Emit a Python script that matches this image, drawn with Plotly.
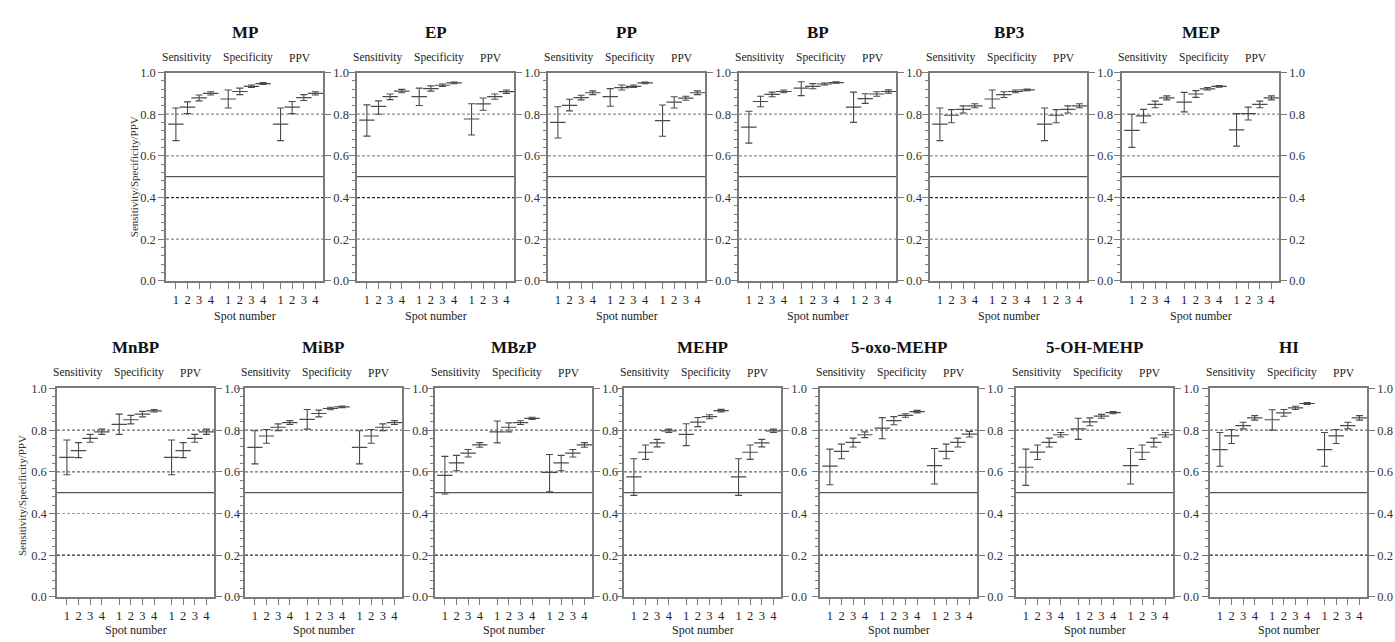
import plotly.graph_objects as go

W, H = 1395, 642

PANELS = ["MP", "EP", "PP", "BP", "BP3", "MEP",
          "MnBP", "MiBP", "MBzP", "MEHP", "5-oxo-MEHP", "5-OH-MEHP", "HI"]
GROUPS = ["Sensitivity", "Specificity", "PPV"]
SPOTS = ["1", "2", "3", "4"]
Y_TICKS = [0.0, 0.2, 0.4, 0.6, 0.8, 1.0]

# estimate / lower / upper for spots 1-4 of Sensitivity, Specificity, PPV
MP_est = [0.752, 0.834, 0.878, 0.900, 0.873, 0.909, 0.934, 0.947, 0.752, 0.834, 0.880, 0.900]
MP_low = [0.673, 0.803, 0.864, 0.892, 0.830, 0.894, 0.928, 0.943, 0.673, 0.803, 0.866, 0.892]
MP_high = [0.830, 0.859, 0.892, 0.908, 0.916, 0.925, 0.940, 0.952, 0.830, 0.861, 0.894, 0.908]

EP_est = [0.772, 0.838, 0.884, 0.911, 0.884, 0.923, 0.939, 0.950, 0.777, 0.850, 0.884, 0.908]
EP_low = [0.695, 0.800, 0.870, 0.903, 0.842, 0.911, 0.933, 0.946, 0.700, 0.819, 0.872, 0.900]
EP_high = [0.845, 0.864, 0.897, 0.919, 0.925, 0.936, 0.945, 0.954, 0.850, 0.878, 0.897, 0.916]

PP_est = [0.761, 0.842, 0.880, 0.903, 0.884, 0.928, 0.934, 0.950, 0.769, 0.858, 0.877, 0.903]
PP_low = [0.686, 0.816, 0.869, 0.894, 0.838, 0.916, 0.928, 0.946, 0.694, 0.830, 0.867, 0.894]
PP_high = [0.836, 0.872, 0.891, 0.912, 0.923, 0.940, 0.940, 0.954, 0.844, 0.884, 0.886, 0.912]

BP_est = [0.738, 0.861, 0.895, 0.909, 0.925, 0.934, 0.945, 0.952, 0.834, 0.875, 0.897, 0.909]
BP_low = [0.661, 0.836, 0.884, 0.903, 0.889, 0.922, 0.940, 0.949, 0.761, 0.852, 0.886, 0.901]
BP_high = [0.814, 0.886, 0.906, 0.916, 0.956, 0.947, 0.950, 0.955, 0.906, 0.898, 0.908, 0.917]

BP3_est = [0.752, 0.795, 0.823, 0.840, 0.873, 0.894, 0.909, 0.917, 0.752, 0.795, 0.823, 0.840]
BP3_low = [0.673, 0.759, 0.806, 0.831, 0.830, 0.880, 0.903, 0.913, 0.673, 0.759, 0.806, 0.831]
BP3_high = [0.830, 0.822, 0.840, 0.850, 0.916, 0.908, 0.916, 0.921, 0.830, 0.822, 0.840, 0.850]

MEP_est = [0.722, 0.792, 0.847, 0.878, 0.858, 0.897, 0.922, 0.934, 0.725, 0.803, 0.847, 0.878]
MEP_low = [0.641, 0.759, 0.831, 0.869, 0.811, 0.881, 0.916, 0.930, 0.647, 0.772, 0.831, 0.869]
MEP_high = [0.800, 0.823, 0.863, 0.888, 0.905, 0.913, 0.928, 0.938, 0.803, 0.834, 0.863, 0.888]

MnBP_est = [0.669, 0.702, 0.761, 0.792, 0.828, 0.850, 0.877, 0.893, 0.669, 0.702, 0.761, 0.792]
MnBP_low = [0.586, 0.668, 0.742, 0.780, 0.780, 0.830, 0.864, 0.887, 0.586, 0.668, 0.742, 0.780]
MnBP_high = [0.753, 0.740, 0.780, 0.805, 0.877, 0.871, 0.890, 0.899, 0.753, 0.740, 0.780, 0.805]

MiBP_est = [0.717, 0.772, 0.814, 0.836, 0.852, 0.880, 0.904, 0.912, 0.717, 0.772, 0.814, 0.836]
MiBP_low = [0.638, 0.737, 0.798, 0.827, 0.805, 0.864, 0.898, 0.908, 0.638, 0.737, 0.798, 0.827]
MiBP_high = [0.797, 0.803, 0.830, 0.846, 0.899, 0.896, 0.910, 0.916, 0.797, 0.803, 0.830, 0.846]

MBzP_est = [0.583, 0.643, 0.690, 0.729, 0.792, 0.814, 0.836, 0.857, 0.597, 0.643, 0.690, 0.729]
MBzP_low = [0.494, 0.605, 0.671, 0.718, 0.739, 0.792, 0.827, 0.852, 0.504, 0.605, 0.671, 0.718]
MBzP_high = [0.674, 0.679, 0.707, 0.740, 0.844, 0.835, 0.845, 0.862, 0.683, 0.679, 0.707, 0.740]

MEHP_est = [0.576, 0.694, 0.739, 0.797, 0.780, 0.839, 0.865, 0.894, 0.576, 0.694, 0.739, 0.797]
MEHP_low = [0.487, 0.660, 0.720, 0.789, 0.726, 0.817, 0.855, 0.888, 0.487, 0.660, 0.720, 0.789]
MEHP_high = [0.663, 0.729, 0.756, 0.805, 0.831, 0.861, 0.874, 0.900, 0.663, 0.729, 0.756, 0.805]

OXO_est = [0.627, 0.698, 0.741, 0.778, 0.810, 0.846, 0.871, 0.889, 0.630, 0.698, 0.741, 0.781]
OXO_low = [0.538, 0.663, 0.719, 0.764, 0.759, 0.826, 0.862, 0.883, 0.542, 0.663, 0.719, 0.767]
OXO_high = [0.709, 0.733, 0.762, 0.792, 0.860, 0.865, 0.879, 0.895, 0.712, 0.733, 0.762, 0.794]

OH_est = [0.622, 0.695, 0.741, 0.778, 0.806, 0.840, 0.867, 0.884, 0.630, 0.694, 0.741, 0.778]
OH_low = [0.535, 0.659, 0.719, 0.767, 0.756, 0.821, 0.857, 0.879, 0.542, 0.659, 0.719, 0.767]
OH_high = [0.709, 0.729, 0.762, 0.789, 0.857, 0.859, 0.876, 0.889, 0.712, 0.729, 0.762, 0.789]

HI_est = [0.707, 0.773, 0.822, 0.859, 0.850, 0.883, 0.907, 0.928, 0.707, 0.773, 0.822, 0.859]
HI_low = [0.627, 0.736, 0.806, 0.848, 0.800, 0.867, 0.899, 0.924, 0.627, 0.736, 0.806, 0.848]
HI_high = [0.789, 0.803, 0.838, 0.870, 0.898, 0.899, 0.915, 0.932, 0.789, 0.803, 0.838, 0.870]

DATA = [
    (MP_est, MP_low, MP_high), (EP_est, EP_low, EP_high), (PP_est, PP_low, PP_high),
    (BP_est, BP_low, BP_high), (BP3_est, BP3_low, BP3_high), (MEP_est, MEP_low, MEP_high),
    (MnBP_est, MnBP_low, MnBP_high), (MiBP_est, MiBP_low, MiBP_high),
    (MBzP_est, MBzP_low, MBzP_high), (MEHP_est, MEHP_low, MEHP_high),
    (OXO_est, OXO_low, OXO_high), (OH_est, OH_low, OH_high), (HI_est, HI_low, HI_high),
]

# ---------------- layout geometry (pixels) ----------------
FONT = "Liberation Serif"
AXC = "#7a7a7a"
MARKC = "#4a4a4a"
PW = 157
LEFTS = [166, 357, 548, 739, 930, 1122, 57, 245, 435, 624, 820, 1016, 1210]
ROW_Y = [(67, 280), (390, 603)]
TITLE_Y = [26, 348]
GROUP_Y = [52, 374]
SPOT_Y = [316, 637]
YTITLE = [(134, 174), (22, 500)]
GROUP_X = [1.9, 7.2, 11.65]
XRANGE = [0.15, 13.65]

def px(x):
    return x / W

def py(y):
    return 1 - y / H

xpos = [g * 4.5 + s + 1 for g in range(3) for s in range(4)]
xtext = SPOTS * 3

fig = go.Figure()
layout = {}
annotations = []
shapes = []
n = len(PANELS)
for i, name in enumerate(PANELS):
    row = 0 if i < 6 else 1
    first = i in (0, 6)
    left = LEFTS[i]
    top, bot = ROW_Y[row]
    xd = [px(left), px(left + PW)]
    yd = [py(bot), py(top)]
    xk = "xaxis" if i == 0 else f"xaxis{i + 1}"
    yk = "yaxis" if i == 0 else f"yaxis{i + 1}"
    xr = "x" if i == 0 else f"x{i + 1}"
    yr = "y" if i == 0 else f"y{i + 1}"
    y2n = i + 1 + n
    y2k = f"yaxis{y2n}"
    y2r = f"y{y2n}"

    est, low, high = DATA[i]
    fig.add_trace(go.Scatter(
        x=xpos, y=est, xaxis=xr, yaxis=yr, mode="markers",
        marker=dict(symbol="line-ew", size=11, line=dict(color=MARKC, width=1.2)),
        error_y=dict(type="data", symmetric=False,
                     array=[h - e for h, e in zip(high, est)],
                     arrayminus=[e - l for e, l in zip(est, low)],
                     color=MARKC, thickness=1.1, width=3.5),
        showlegend=False, hoverinfo="skip"))
    fig.add_trace(go.Scatter(x=[xpos[0]], y=[0.5], xaxis=xr, yaxis=y2r, mode="markers",
                             marker=dict(opacity=0, size=1), showlegend=False, hoverinfo="skip"))

    layout[xk] = dict(domain=xd, anchor=yr, range=XRANGE, tickmode="array",
                      tickvals=xpos, ticktext=xtext, ticks="outside", ticklen=6,
                      tickcolor=AXC, tickwidth=1.2, showline=True, linecolor=AXC, linewidth=1.5,
                      mirror=True, showgrid=False, zeroline=False,
                      tickfont=dict(family=FONT, size=12.5, color="#222"), fixedrange=True)
    layout[yk] = dict(domain=yd, anchor=xr, range=[0, 1], tickmode="array", tickvals=Y_TICKS,
                      tickformat=".1f", ticks="outside", ticklen=6, tickcolor=AXC, tickwidth=1.2,
                      showticklabels=first, showline=True, linecolor=AXC, linewidth=1.5,
                      showgrid=False, zeroline=False,
                      minor=dict(tickvals=[k * 0.04 for k in range(26)], ticks="outside",
                                 ticklen=3, tickcolor=AXC, tickwidth=1),
                      tickfont=dict(family=FONT, size=12.5, color="#333"), fixedrange=True)
    layout[y2k] = dict(overlaying=yr, side="right", anchor=xr, range=[0, 1], tickmode="array",
                       tickvals=Y_TICKS, tickformat=".1f", ticks="outside", ticklen=6,
                       tickcolor=AXC, tickwidth=1.2, showline=True, linecolor=AXC, linewidth=1.5,
                       showgrid=False, zeroline=False,
                       tickfont=dict(family=FONT, size=12.5, color="#333"), fixedrange=True)

    # reference lines
    if row == 0:
        dcol = {0.2: "#8a8a8a", 0.4: "#2a2a2a", 0.6: "#8a8a8a", 0.8: "#8a8a8a"}
    else:
        dcol = {0.2: "#2a2a2a", 0.4: "#9a9a9a", 0.6: "#6a6a6a", 0.8: "#6a6a6a"}
    for v, c in dcol.items():
        shapes.append(dict(type="line", xref=f"{xr} domain", yref=yr, x0=0, x1=1, y0=v, y1=v,
                           line=dict(color=c, width=1.2, dash="3px,2px"), layer="below"))
    shapes.append(dict(type="line", xref=f"{xr} domain", yref=yr, x0=0, x1=1, y0=0.5, y1=0.5,
                       line=dict(color="#555", width=1.3), layer="below"))

    # title
    annotations.append(dict(text=f"<b>{name}</b>", x=px(left + PW / 2), y=py(TITLE_Y[row]),
                            xref="paper", yref="paper", showarrow=False, xanchor="center",
                            yanchor="middle", font=dict(family=FONT, size=17, color="#111")))
    for gx, g in zip(GROUP_X, GROUPS):
        annotations.append(dict(text=g, x=gx, y=py(GROUP_Y[row]), xref=xr, yref="paper",
                                showarrow=False, xanchor="center", yanchor="middle",
                                font=dict(family=FONT, size=11.5, color="#222")))
    annotations.append(dict(text="Spot number", x=px(left + PW / 2), y=py(SPOT_Y[row]),
                            xref="paper", yref="paper", showarrow=False, xanchor="center",
                            yanchor="middle", font=dict(family=FONT, size=12, color="#222")))

for row in range(2):
    xt, yt = YTITLE[row]
    annotations.append(dict(text="Sensitivity/Specificity/PPV", x=px(xt), y=py(yt),
                            xref="paper", yref="paper", showarrow=False, textangle=-90,
                            xanchor="center", yanchor="middle",
                            font=dict(family=FONT, size=11, color="#333")))

fig.update_layout(width=W, height=H, margin=dict(l=0, r=0, t=0, b=0),
                  paper_bgcolor="white", plot_bgcolor="white",
                  annotations=annotations, shapes=shapes, showlegend=False, **layout)
fig.write_html("out.html", config={"displayModeBar": False})
